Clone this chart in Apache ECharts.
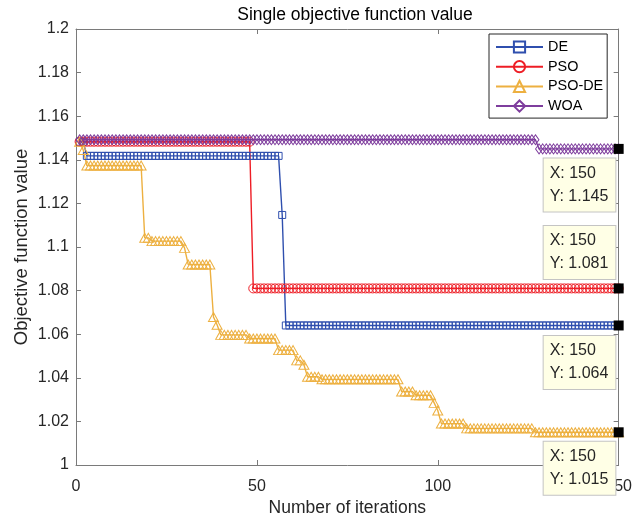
<!DOCTYPE html>
<html><head><meta charset="utf-8">
<script src="https://cdn.jsdelivr.net/npm/echarts@6/dist/echarts.min.js"></script>
<style>html,body{margin:0;padding:0;background:#fff}#c{width:635px;height:522px}</style>
</head><body><div id="c"></div>
<script>
// ---- data ----
const seriesNames = ['DE', 'PSO', 'PSO-DE', 'WOA'];
const xTicks = [0, 50, 100, 150];
const yTicks = [1, 1.02, 1.04, 1.06, 1.08, 1.1, 1.12, 1.14, 1.16, 1.18, 1.2];
const iterations = Array.from({length: 150}, (_, i) => i + 1);

const deValues = [
1.1483,1.1483,
1.1418,1.1418,1.1418,1.1418,1.1418,1.1418,1.1418,1.1418,1.1418,1.1418,
1.1418,1.1418,1.1418,1.1418,1.1418,1.1418,1.1418,1.1418,1.1418,1.1418,
1.1418,1.1418,1.1418,1.1418,1.1418,1.1418,1.1418,1.1418,1.1418,1.1418,
1.1418,1.1418,1.1418,1.1418,1.1418,1.1418,1.1418,1.1418,1.1418,1.1418,
1.1418,1.1418,1.1418,1.1418,1.1418,1.1418,1.1418,1.1418,1.1418,1.1418,
1.1418,1.1418,1.1418,1.1418,
1.1147,
1.064,1.064,1.064,1.064,1.064,1.064,1.064,1.064,1.064,1.064,
1.064,1.064,1.064,1.064,1.064,1.064,1.064,1.064,1.064,1.064,
1.064,1.064,1.064,1.064,1.064,1.064,1.064,1.064,1.064,1.064,
1.064,1.064,1.064,1.064,1.064,1.064,1.064,1.064,1.064,1.064,
1.064,1.064,1.064,1.064,1.064,1.064,1.064,1.064,1.064,1.064,
1.064,1.064,1.064,1.064,1.064,1.064,1.064,1.064,1.064,1.064,
1.064,1.064,1.064,1.064,1.064,1.064,1.064,1.064,1.064,1.064,
1.064,1.064,1.064,1.064,1.064,1.064,1.064,1.064,1.064,1.064,
1.064,1.064,1.064,1.064,1.064,1.064,1.064,1.064,1.064,1.064,
1.064,1.064,1.064
];

const psoValues = [
1.1483,1.1483,1.1483,1.1483,1.1483,1.1483,1.1483,1.1483,1.1483,1.1483,
1.1483,1.1483,1.1483,1.1483,1.1483,1.1483,1.1483,1.1483,1.1483,1.1483,
1.1483,1.1483,1.1483,1.1483,1.1483,1.1483,1.1483,1.1483,1.1483,1.1483,
1.1483,1.1483,1.1483,1.1483,1.1483,1.1483,1.1483,1.1483,1.1483,1.1483,
1.1483,1.1483,1.1483,1.1483,1.1483,1.1483,1.1483,1.1483,
1.081,1.081,1.081,1.081,1.081,1.081,1.081,1.081,1.081,1.081,
1.081,1.081,1.081,1.081,1.081,1.081,1.081,1.081,1.081,1.081,
1.081,1.081,1.081,1.081,1.081,1.081,1.081,1.081,1.081,1.081,
1.081,1.081,1.081,1.081,1.081,1.081,1.081,1.081,1.081,1.081,
1.081,1.081,1.081,1.081,1.081,1.081,1.081,1.081,1.081,1.081,
1.081,1.081,1.081,1.081,1.081,1.081,1.081,1.081,1.081,1.081,
1.081,1.081,1.081,1.081,1.081,1.081,1.081,1.081,1.081,1.081,
1.081,1.081,1.081,1.081,1.081,1.081,1.081,1.081,1.081,1.081,
1.081,1.081,1.081,1.081,1.081,1.081,1.081,1.081,1.081,1.081,
1.081,1.081,1.081,1.081,1.081,1.081,1.081,1.081,1.081,1.081,
1.081,1.081
];

const psodeValues = [
1.1483,1.1445,
1.1374,1.1374,1.1374,1.1374,1.1374,1.1374,1.1374,1.1374,1.1374,1.1374,
1.1374,1.1374,1.1374,1.1374,1.1374,1.1374,
1.1042,1.1042,
1.1027,1.1027,1.1027,1.1027,1.1027,1.1027,1.1027,1.1027,1.1027,
1.0996,
1.092,1.092,1.092,1.092,1.092,1.092,1.092,
1.0679,1.0643,
1.0597,1.0597,1.0597,1.0597,1.0597,1.0597,1.0597,1.0597,
1.058,1.058,1.058,1.058,1.058,1.058,1.058,1.058,
1.0527,1.0527,1.0527,1.0527,1.0527,
1.048,1.048,
1.046,
1.0405,1.0405,1.0405,1.0405,
1.0393,1.0393,1.0393,1.0393,1.0393,1.0393,1.0393,1.0393,1.0393,1.0393,
1.0393,1.0393,1.0393,1.0393,1.0393,1.0393,1.0393,1.0393,1.0393,1.0393,
1.0393,1.0393,
1.0337,1.0337,1.0337,1.0337,
1.032,1.032,1.032,1.032,1.032,
1.0285,1.025,
1.019,1.019,1.019,1.019,1.019,1.019,1.019,
1.0168,1.0168,1.0168,1.0168,1.0168,1.0168,1.0168,1.0168,1.0168,1.0168,
1.0168,1.0168,1.0168,1.0168,1.0168,1.0168,1.0168,1.0168,1.0168,
1.015,1.015,1.015,1.015,1.015,1.015,1.015,1.015,1.015,1.015,
1.015,1.015,1.015,1.015,1.015,1.015,1.015,1.015,1.015,1.015,
1.015,1.015,1.015,1.015
];

const woaValues = [
1.1492,1.1492,1.1492,1.1492,1.1492,1.1492,1.1492,1.1492,1.1492,1.1492,
1.1492,1.1492,1.1492,1.1492,1.1492,1.1492,1.1492,1.1492,1.1492,1.1492,
1.1492,1.1492,1.1492,1.1492,1.1492,1.1492,1.1492,1.1492,1.1492,1.1492,
1.1492,1.1492,1.1492,1.1492,1.1492,1.1492,1.1492,1.1492,1.1492,1.1492,
1.1492,1.1492,1.1492,1.1492,1.1492,1.1492,1.1492,1.1492,1.1492,1.1492,
1.1492,1.1492,1.1492,1.1492,1.1492,1.1492,1.1492,1.1492,1.1492,1.1492,
1.1492,1.1492,1.1492,1.1492,1.1492,1.1492,1.1492,1.1492,1.1492,1.1492,
1.1492,1.1492,1.1492,1.1492,1.1492,1.1492,1.1492,1.1492,1.1492,1.1492,
1.1492,1.1492,1.1492,1.1492,1.1492,1.1492,1.1492,1.1492,1.1492,1.1492,
1.1492,1.1492,1.1492,1.1492,1.1492,1.1492,1.1492,1.1492,1.1492,1.1492,
1.1492,1.1492,1.1492,1.1492,1.1492,1.1492,1.1492,1.1492,1.1492,1.1492,
1.1492,1.1492,1.1492,1.1492,1.1492,1.1492,1.1492,1.1492,1.1492,1.1492,
1.1492,1.1492,1.1492,1.1492,1.1492,1.1492,1.1492,
1.145,1.145,1.145,1.145,1.145,1.145,1.145,1.145,1.145,1.145,
1.145,1.145,1.145,1.145,1.145,1.145,1.145,1.145,1.145,1.145,
1.145,1.145,1.145
];

const allValues = [deValues, psoValues, psodeValues, woaValues];

// ---- styling ----
const FONT = '"Liberation Sans", Arial, Helvetica, sans-serif';
const AX = '#7a7a7a';
const TXT = '#262626';
const colors = ['#2F4FAE', '#EE1D25', '#EDB040', '#7E3D9D'];
const symbols = ['rect', 'circle', 'triangle', 'diamond'];
const symbolSizes = [[7, 7], [9, 9], [10, 9], [7, 10]];
const tipOffsets = [[-75, 37], [-75, -36], [-75, 36], [-75, 36]];

const chart = echarts.init(document.getElementById('c'), null, {renderer: 'canvas'});

function axisCommon() {
  return {
    axisLine: {show: true, onZero: false, lineStyle: {color: AX, width: 1}},
    axisTick: {show: true, inside: true, length: 5, lineStyle: {color: AX, width: 1}},
    splitLine: {show: false}
  };
}

const series = seriesNames.map((name, k) => {
  const vals = allValues[k];
  const last = vals[vals.length - 1];
  const lastX = iterations[vals.length - 1];
  return {
    name: name,
    type: 'line',
    data: vals.map((v, i) => [iterations[i], v]),
    symbol: symbols[k],
    symbolSize: symbolSizes[k],
    showSymbol: true,
    showAllSymbol: true,
    lineStyle: {color: colors[k], width: 1.4},
    itemStyle: {color: 'rgba(255,255,255,0)', borderColor: colors[k], borderWidth: 1},
    emphasis: {disabled: true},
    markPoint: {
      z: 20,
      symbol: 'rect',
      symbolSize: 10,
      itemStyle: {color: '#000', borderColor: '#000', borderWidth: 0},
      data: [{
        coord: [lastX, last],
        label: {
          show: true,
          position: 'inside',
          offset: tipOffsets[k],
          formatter: 'X: ' + lastX + '\nY: ' + last.toFixed(3),
          backgroundColor: '#FFFFE6',
          borderColor: '#C4C4C4',
          borderWidth: 1,
          padding: [4, 7, 3, 6],
          lineHeight: 23,
          fontSize: 16,
          fontFamily: FONT,
          color: TXT,
          align: 'left',
          verticalAlign: 'middle'
        }
      }]
    }
  };
});

chart.setOption({
  animation: false,
  backgroundColor: '#fff',
  title: {
    text: 'Single objective function value',
    left: 350,
    textAlign: 'center',
    top: 1,
    textStyle: {fontSize: 17.5, fontWeight: 'normal', color: '#000', fontFamily: FONT}
  },
  grid: {left: 76, right: 11, top: 29, bottom: 52, containLabel: false},
  legend: {
    data: seriesNames,
    orient: 'vertical',
    left: 489,
    top: 34,
    itemWidth: 47,
    itemHeight: 14,
    itemGap: 5.7,
    padding: [6, 4, 5, 6],
    borderColor: '#262626',
    borderWidth: 1,
    backgroundColor: '#fff',
    textStyle: {fontSize: 14.4, color: '#000', fontFamily: FONT}
  },
  xAxis: [
    Object.assign(axisCommon(), {
      type: 'value', min: xTicks[0], max: xTicks[xTicks.length - 1], interval: xTicks[1] - xTicks[0],
      position: 'bottom',
      name: 'Number of iterations', nameLocation: 'middle', nameGap: 34, nameMoveOverlap: false,
      nameTextStyle: {fontSize: 17.5, color: TXT, fontFamily: FONT},
      axisLabel: {fontSize: 16, color: TXT, margin: 14, fontFamily: FONT}
    }),
    Object.assign(axisCommon(), {
      type: 'value', min: xTicks[0], max: xTicks[xTicks.length - 1], interval: xTicks[1] - xTicks[0],
      position: 'top', axisLabel: {show: false}
    })
  ],
  yAxis: [
    Object.assign(axisCommon(), {
      type: 'value', min: yTicks[0], max: yTicks[yTicks.length - 1], interval: 0.02,
      position: 'left',
      name: 'Objective function value', nameLocation: 'middle', nameGap: 45, nameMoveOverlap: false,
      nameTextStyle: {fontSize: 18.5, color: TXT, fontFamily: FONT},
      axisLabel: {fontSize: 16, color: TXT, margin: 7, fontFamily: FONT}
    }),
    Object.assign(axisCommon(), {
      type: 'value', min: yTicks[0], max: yTicks[yTicks.length - 1], interval: 0.02,
      position: 'right', axisLabel: {show: false}
    })
  ],
  series: series
});
</script>
</body></html>
